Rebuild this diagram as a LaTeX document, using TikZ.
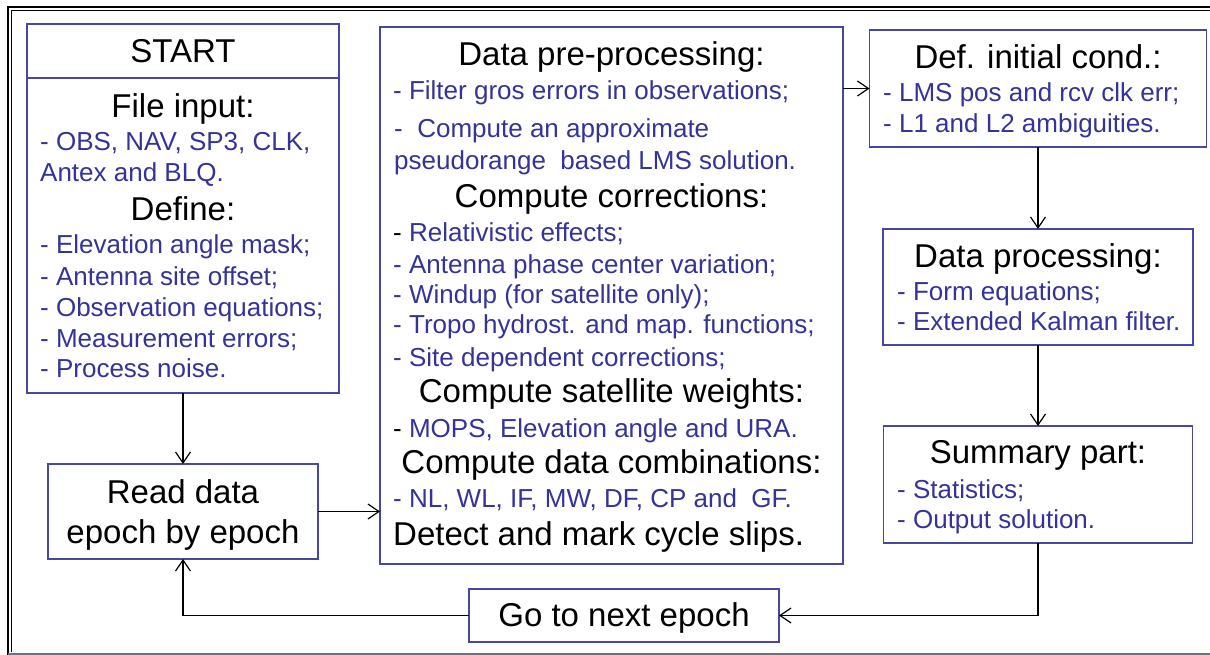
\documentclass[tikz,border=0pt]{standalone}
\usepackage{fontspec}
\setmainfont{Liberation Sans}
\usetikzlibrary{arrows.meta}
\definecolor{tblue}{RGB}{51,51,153}
\definecolor{bblue}{RGB}{70,70,165}
\definecolor{frameteal}{RGB}{90,120,140}
\newcommand\hdfont{\fontsize{33}{40}\selectfont}
\newcommand\itmfont{\fontsize{26}{31}\selectfont\color{tblue}}
\begin{document}
\begin{tikzpicture}[x=1pt,y=-1pt,
  box/.style={draw=bblue, line width=1.4pt, inner sep=0pt, outer sep=0pt},
  hd/.style={anchor=base, inner sep=0pt, font=\hdfont},
  hdl/.style={anchor=base west, inner sep=0pt, font=\hdfont},
  itm/.style={anchor=base west, inner sep=0pt, font=\itmfont},
  conn/.style={line width=1.2pt, -{Straight Barb[length=11pt,width=15pt]}}]
\useasboundingbox (0,0) rectangle (1210,655);
\fill[white] (0,0) rectangle (1210,655);
% outer frame
\draw[line width=2.5pt] (8,655) -- (8,7) -- (1212,7);
\draw[line width=0.9pt] (11.5,652) -- (11.5,10.5) -- (1212,10.5);
\draw[frameteal, line width=2pt] (8,653.5) -- (1212,653.5);
% boxes
\node[box, minimum width=312pt, minimum height=369pt] (start) at (183,208.5) {};
\coordinate (div) at (0,78);
\draw[bblue, line width=1.4pt] (start.west |- div) -- (start.east |- div);
\node[box, minimum width=270pt, minimum height=95pt] (read) at (183,511.5) {};
\node[box, minimum width=463pt, minimum height=537pt] (mid) at (611.5,295.5) {};
\node[box, minimum width=337pt, minimum height=117pt] (def) at (1038,88.5) {};
\node[box, minimum width=310pt, minimum height=116pt] (dp) at (1038,287) {};
\node[box, minimum width=309pt, minimum height=117pt] (sum) at (1038,484.5) {};
\node[box, minimum width=310pt, minimum height=53pt] (go) at (624,615.5) {};
% single texts
\node[hd] (tread1) at (183,503) {Read data};
\node[hd] (tread2) at (183,543) {epoch by epoch};
\node[hd] (tgo) at (624,626) {Go to next epoch};
% left box texts
\node[hd] (tstart) at (183,63) {START};
\node[hd] (tfile) at (183,118) {File input:};
\node[itm] (tobs) at (40,151) {- OBS, NAV, SP3, CLK,};
\node[itm] (tantex) at (40,182) {Antex and BLQ.};
\node[hd] (tdefine) at (183,221) {Define:};
\node[itm] (tl1) at (40,254) {- Elevation angle mask;};
\node[itm] (tl2) at (40,285) {- Antenna site offset;};
\node[itm] (tl3) at (40,316) {- Observation equations;};
\node[itm] (tl4) at (40,347) {- Measurement errors;};
\node[itm] (tl5) at (40,377) {- Process noise.};
% middle box texts
\node[hd] (tm0) at (611.5,66) {Data pre-processing:};
\node[itm] (tm1) at (393,100) {- Filter gros errors in observations;};
\node[itm] (tm2) at (394,138) {-\ \ Compute an approximate};
\node[itm] (tm3) at (394,170) {pseudorange\ \ based LMS solution.};
\node[hd] (tm4) at (611.5,208) {Compute corrections:};
\node[itm] (tm5) at (393,241) {{\color{black}-} Relativistic effects;};
\node[itm] (tm6) at (393,273) {- Antenna phase center variation;};
\node[itm] (tm7) at (393,303) {- Windup (for satellite only);};
\node[itm] (tm8) at (393,333) {- Tropo hydrost. and map. functions;};
\node[itm] (tm9) at (393,366) {- Site dependent corrections;};
\node[hd] (tm10) at (611.5,402) {Compute satellite weights:};
\node[itm] (tm11) at (393,437) {{\color{black}-} MOPS, Elevation angle and URA.};
\node[hd] (tm12) at (611.5,473) {Compute data combinations:};
\node[itm] (tm13) at (393,507) {- NL, WL, IF, MW, DF, CP and\ \ GF.};
\node[hdl] (tm14) at (393,545) {Detect and mark cycle slips.};
% right boxes texts
\node[hd] (td0) at (1038,69) {Def. initial cond.:};
\node[itm] (td1) at (883,102) {- LMS pos and rcv clk err;};
\node[itm] (td2) at (883,133) {- L1 and L2 ambiguities.};
\node[hd] (tp0) at (1038,267) {Data processing:};
\node[itm] (tp1) at (897,300) {- Form equations;};
\node[itm] (tp2) at (897,330) {- Extended Kalman filter.};
\node[hd] (ts0) at (1038,463) {Summary part:};
\node[itm] (ts1) at (897,498) {- Statistics;};
\node[itm] (ts2) at (897,528) {- Output solution.};
% connectors
\draw[conn] (start.south) -- (read.north);
\draw[conn] (read.east) -- (read.east -| mid.west);
\draw[conn] (mid.east |- def.west) -- (def.west);
\draw[conn] (def.south) -- (dp.north);
\draw[conn] (dp.south) -- (sum.north);
\draw[conn] (sum.south) |- (go.east);
\draw[conn] (go.west) -| (read.south);
\end{tikzpicture}
\end{document}
